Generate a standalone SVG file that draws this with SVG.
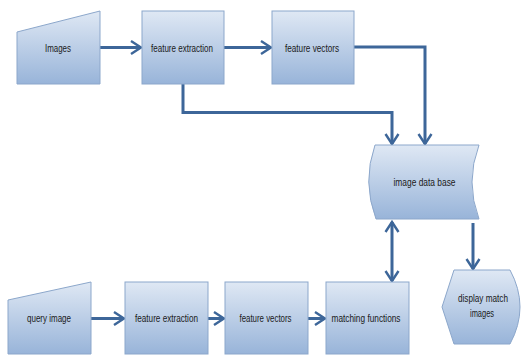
<svg xmlns="http://www.w3.org/2000/svg" width="521" height="356" viewBox="0 0 521 356">
  <defs>
    <linearGradient id="fillGrad" x1="0" y1="0" x2="0" y2="1">
      <stop offset="0" stop-color="#dfe8f4"/>
      <stop offset="1" stop-color="#98b4d9"/>
    </linearGradient>
    <marker id="arrow" markerUnits="userSpaceOnUse" markerWidth="14" markerHeight="16" refX="11" refY="7" orient="auto" overflow="visible">
      <path d="M1,0.5 L11,7 L1,13.5" fill="none" stroke="#3d6699" stroke-width="2.4"/>
    </marker>
    <marker id="arrowStart" markerUnits="userSpaceOnUse" markerWidth="14" markerHeight="16" refX="11" refY="7" orient="auto-start-reverse" overflow="visible">
      <path d="M1,0.5 L11,7 L1,13.5" fill="none" stroke="#3d6699" stroke-width="2.4"/>
    </marker>
  </defs>
  <style>
    .shape { fill: url(#fillGrad); stroke: #8ca7cb; stroke-width: 1; }
    .label { font-family: "Liberation Sans", Arial, sans-serif; font-size: 11.5px; fill: #1a1a1a; text-anchor: middle; }
    .small { font-size: 11px; }
    .conn { fill: none; stroke: #3d6699; stroke-width: 3; }
  </style>

  <rect width="521" height="356" fill="#ffffff"/>

  <!-- connectors -->
  <g id="connectors">
    <path class="conn" d="M100,47.5 H141" marker-end="url(#arrow)"/>
    <path class="conn" d="M224,47.5 H271" marker-end="url(#arrow)"/>
    <path class="conn" d="M354,47 H425 V144" marker-end="url(#arrow)"/>
    <path class="conn" d="M183,84 V112.5 H392 V144" marker-end="url(#arrow)"/>
    <path class="conn" d="M392,222 V281" marker-start="url(#arrowStart)" marker-end="url(#arrow)"/>
    <path class="conn" d="M473,223 V269" marker-end="url(#arrow)"/>
    <path class="conn" d="M91,318.5 H124" marker-end="url(#arrow)"/>
    <path class="conn" d="M208,318.5 H224" marker-end="url(#arrow)"/>
    <path class="conn" d="M308,318.5 H325" marker-end="url(#arrow)"/>
  </g>

  <!-- upper row -->
  <g id="images">
    <path class="shape" d="M17,32 L100,11 L100,84 L17,84 Z"/>
    <text class="label" x="58" y="51.5" textLength="26" lengthAdjust="spacingAndGlyphs">Images</text>
  </g>
  <g id="feature-extraction-1">
    <rect class="shape" x="142" y="11" width="82" height="73"/>
    <text class="label" x="182" y="51.5" textLength="62" lengthAdjust="spacingAndGlyphs">feature extraction</text>
  </g>
  <g id="feature-vectors-1">
    <rect class="shape" x="272" y="11" width="82" height="73"/>
    <text class="label" x="312" y="51.5" textLength="54" lengthAdjust="spacingAndGlyphs">feature vectors</text>
  </g>

  <!-- database -->
  <g id="image-data-base">
    <path class="shape" d="M375,145 L479,145 Q465,182 479,219 L376,219 Q362,182 375,145 Z"/>
    <text class="label" x="424.5" y="186" textLength="62" lengthAdjust="spacingAndGlyphs">image data base</text>
  </g>

  <!-- output -->
  <g id="display-match-images">
    <path class="shape" d="M454,270 L510,270 Q530,307 510,344 L454,344 L442,307 Z"/>
    <text class="label small" x="483" y="302" textLength="50" lengthAdjust="spacingAndGlyphs">display match</text>
    <text class="label small" x="482" y="317" textLength="24" lengthAdjust="spacingAndGlyphs">images</text>
  </g>

  <!-- lower row -->
  <g id="query-image">
    <path class="shape" d="M8,300 L91,282 L91,354 L8,354 Z"/>
    <text class="label" x="49" y="322" textLength="44" lengthAdjust="spacingAndGlyphs">query image</text>
  </g>
  <g id="feature-extraction-2">
    <rect class="shape" x="125" y="282" width="83" height="72"/>
    <text class="label" x="166.5" y="322" textLength="63" lengthAdjust="spacingAndGlyphs">feature extraction</text>
  </g>
  <g id="feature-vectors-2">
    <rect class="shape" x="225" y="282" width="83" height="72"/>
    <text class="label" x="265.5" y="322" textLength="52" lengthAdjust="spacingAndGlyphs">feature vectors</text>
  </g>
  <g id="matching-functions">
    <rect class="shape" x="326" y="282" width="83" height="72"/>
    <text class="label" x="366" y="322" textLength="69" lengthAdjust="spacingAndGlyphs">matching functions</text>
  </g>
</svg>
